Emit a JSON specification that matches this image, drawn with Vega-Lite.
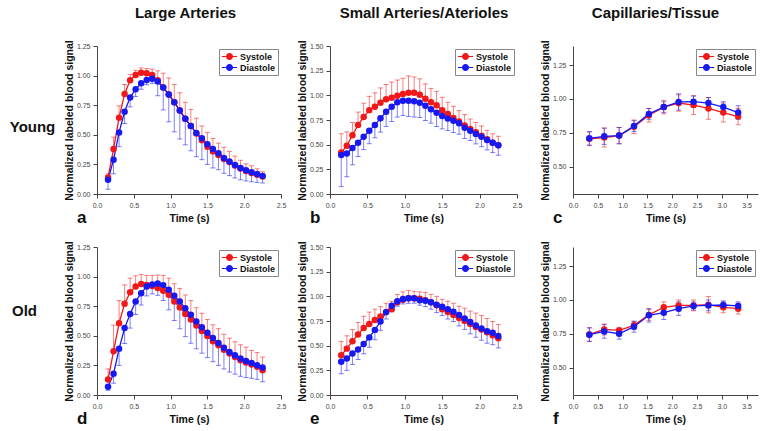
{
"$schema":"https://vega.github.io/schema/vega-lite/v6.json",
"background":"white",
"padding":5,
"config":{
 "font":"Liberation Sans",
 "view":{"stroke":null},
 "axis":{"grid":false,"domainColor":"#444","tickColor":"#444","labelColor":"#444","labelFontSize":7,"titleFontSize":10.5,"titleFontWeight":"bold","titleColor":"#111","tickSize":4,"labelPadding":3,"labelFlush":false,"domainWidth":1,"tickWidth":1,"minExtent":0},
 "axisY":{"titlePadding":2,"minExtent":0},
 "axisX":{"titlePadding":5,"minExtent":0},
 "title":{"font":"Liberation Sans","color":"#111"},
 "legend":{"orient":"top-right","offset":3,"symbolType":"M-1.7,0L1.7,0M0.65,0A0.65,0.65,0,1,1,-0.65,0A0.65,0.65,0,1,1,0.65,0Z","symbolSize":80,"symbolStrokeWidth":1.2,"symbolOffset":3,"labelOffset":5,"labelFontSize":9,"labelFontWeight":"bold","labelColor":"#111","strokeColor":"#888","fillColor":"white","padding":2,"rowPadding":0,"cornerRadius":0}
},
"datasets":{
"la_y":[
{"t":0.15,"g":"Systole","v":0.14,"eu":0.03,"ed":0},{"t":0.225,"g":"Systole","v":0.38,"eu":0.1,"ed":0},{"t":0.3,"g":"Systole","v":0.645,"eu":0.1,"ed":0},{"t":0.375,"g":"Systole","v":0.845,"eu":0.08,"ed":0},{"t":0.45,"g":"Systole","v":0.96,"eu":0.05,"ed":0},{"t":0.525,"g":"Systole","v":1.005,"eu":0.04,"ed":0},{"t":0.6,"g":"Systole","v":1.025,"eu":0.04,"ed":0},{"t":0.675,"g":"Systole","v":1.02,"eu":0.04,"ed":0},{"t":0.75,"g":"Systole","v":1.005,"eu":0.05,"ed":0},{"t":0.825,"g":"Systole","v":0.96,"eu":0.08,"ed":0},{"t":0.9,"g":"Systole","v":0.9,"eu":0.12,"ed":0},{"t":0.975,"g":"Systole","v":0.84,"eu":0.14,"ed":0},{"t":1.05,"g":"Systole","v":0.775,"eu":0.15,"ed":0},{"t":1.125,"g":"Systole","v":0.705,"eu":0.15,"ed":0},{"t":1.2,"g":"Systole","v":0.635,"eu":0.14,"ed":0},{"t":1.275,"g":"Systole","v":0.575,"eu":0.14,"ed":0},{"t":1.35,"g":"Systole","v":0.51,"eu":0.13,"ed":0},{"t":1.425,"g":"Systole","v":0.455,"eu":0.12,"ed":0},{"t":1.5,"g":"Systole","v":0.4,"eu":0.12,"ed":0},{"t":1.575,"g":"Systole","v":0.36,"eu":0.11,"ed":0},{"t":1.65,"g":"Systole","v":0.33,"eu":0.1,"ed":0},{"t":1.725,"g":"Systole","v":0.295,"eu":0.1,"ed":0},{"t":1.8,"g":"Systole","v":0.27,"eu":0.09,"ed":0},{"t":1.875,"g":"Systole","v":0.24,"eu":0.08,"ed":0},{"t":1.95,"g":"Systole","v":0.215,"eu":0.07,"ed":0},{"t":2.025,"g":"Systole","v":0.195,"eu":0.06,"ed":0},{"t":2.1,"g":"Systole","v":0.178,"eu":0.06,"ed":0},{"t":2.175,"g":"Systole","v":0.163,"eu":0.05,"ed":0},{"t":2.25,"g":"Systole","v":0.148,"eu":0.04,"ed":0},
{"t":0.15,"g":"Diastole","v":0.12,"eu":0,"ed":-0.08},{"t":0.225,"g":"Diastole","v":0.29,"eu":0,"ed":-0.12},{"t":0.3,"g":"Diastole","v":0.52,"eu":0,"ed":-0.12},{"t":0.375,"g":"Diastole","v":0.695,"eu":0,"ed":-0.1},{"t":0.45,"g":"Diastole","v":0.816,"eu":0,"ed":-0.08},{"t":0.525,"g":"Diastole","v":0.884,"eu":0,"ed":-0.06},{"t":0.6,"g":"Diastole","v":0.935,"eu":0,"ed":-0.05},{"t":0.675,"g":"Diastole","v":0.963,"eu":0,"ed":-0.04},{"t":0.75,"g":"Diastole","v":0.974,"eu":0,"ed":-0.04},{"t":0.825,"g":"Diastole","v":0.95,"eu":0,"ed":-0.12},{"t":0.9,"g":"Diastole","v":0.9,"eu":0,"ed":-0.19},{"t":0.975,"g":"Diastole","v":0.84,"eu":0,"ed":-0.23},{"t":1.05,"g":"Diastole","v":0.775,"eu":0,"ed":-0.25},{"t":1.125,"g":"Diastole","v":0.705,"eu":0,"ed":-0.24},{"t":1.2,"g":"Diastole","v":0.635,"eu":0,"ed":-0.22},{"t":1.275,"g":"Diastole","v":0.575,"eu":0,"ed":-0.21},{"t":1.35,"g":"Diastole","v":0.515,"eu":0,"ed":-0.2},{"t":1.425,"g":"Diastole","v":0.47,"eu":0,"ed":-0.18},{"t":1.5,"g":"Diastole","v":0.42,"eu":0,"ed":-0.17},{"t":1.575,"g":"Diastole","v":0.38,"eu":0,"ed":-0.16},{"t":1.65,"g":"Diastole","v":0.345,"eu":0,"ed":-0.14},{"t":1.725,"g":"Diastole","v":0.305,"eu":0,"ed":-0.13},{"t":1.8,"g":"Diastole","v":0.275,"eu":0,"ed":-0.12},{"t":1.875,"g":"Diastole","v":0.245,"eu":0,"ed":-0.11},{"t":1.95,"g":"Diastole","v":0.22,"eu":0,"ed":-0.1},{"t":2.025,"g":"Diastole","v":0.2,"eu":0,"ed":-0.09},{"t":2.1,"g":"Diastole","v":0.183,"eu":0,"ed":-0.08},{"t":2.175,"g":"Diastole","v":0.168,"eu":0,"ed":-0.07},{"t":2.25,"g":"Diastole","v":0.153,"eu":0,"ed":-0.06}
],
"sa_y":[
{"t":0.15,"g":"Systole","v":0.42,"eu":0.19,"ed":0},{"t":0.225,"g":"Systole","v":0.49,"eu":0.14,"ed":0},{"t":0.3,"g":"Systole","v":0.595,"eu":0.13,"ed":0},{"t":0.375,"g":"Systole","v":0.7,"eu":0.13,"ed":0},{"t":0.45,"g":"Systole","v":0.78,"eu":0.14,"ed":0},{"t":0.525,"g":"Systole","v":0.85,"eu":0.14,"ed":0},{"t":0.6,"g":"Systole","v":0.885,"eu":0.14,"ed":0},{"t":0.675,"g":"Systole","v":0.925,"eu":0.15,"ed":0},{"t":0.75,"g":"Systole","v":0.96,"eu":0.15,"ed":0},{"t":0.825,"g":"Systole","v":0.975,"eu":0.16,"ed":0},{"t":0.9,"g":"Systole","v":0.995,"eu":0.16,"ed":0},{"t":0.975,"g":"Systole","v":1.013,"eu":0.16,"ed":0},{"t":1.05,"g":"Systole","v":1.027,"eu":0.17,"ed":0},{"t":1.125,"g":"Systole","v":1.027,"eu":0.16,"ed":0},{"t":1.2,"g":"Systole","v":1.007,"eu":0.16,"ed":0},{"t":1.275,"g":"Systole","v":0.966,"eu":0.15,"ed":0},{"t":1.35,"g":"Systole","v":0.93,"eu":0.14,"ed":0},{"t":1.425,"g":"Systole","v":0.9,"eu":0.14,"ed":0},{"t":1.5,"g":"Systole","v":0.85,"eu":0.13,"ed":0},{"t":1.575,"g":"Systole","v":0.81,"eu":0.12,"ed":0},{"t":1.65,"g":"Systole","v":0.77,"eu":0.12,"ed":0},{"t":1.725,"g":"Systole","v":0.735,"eu":0.11,"ed":0},{"t":1.8,"g":"Systole","v":0.695,"eu":0.11,"ed":0},{"t":1.875,"g":"Systole","v":0.66,"eu":0.1,"ed":0},{"t":1.95,"g":"Systole","v":0.625,"eu":0.1,"ed":0},{"t":2.025,"g":"Systole","v":0.59,"eu":0.1,"ed":0},{"t":2.1,"g":"Systole","v":0.555,"eu":0.09,"ed":0},{"t":2.175,"g":"Systole","v":0.52,"eu":0.09,"ed":0},{"t":2.25,"g":"Systole","v":0.495,"eu":0.09,"ed":0},
{"t":0.15,"g":"Diastole","v":0.395,"eu":0,"ed":-0.32},{"t":0.225,"g":"Diastole","v":0.41,"eu":0,"ed":-0.235},{"t":0.3,"g":"Diastole","v":0.466,"eu":0,"ed":-0.17},{"t":0.375,"g":"Diastole","v":0.52,"eu":0,"ed":-0.14},{"t":0.45,"g":"Diastole","v":0.58,"eu":0,"ed":-0.13},{"t":0.525,"g":"Diastole","v":0.64,"eu":0,"ed":-0.13},{"t":0.6,"g":"Diastole","v":0.7,"eu":0,"ed":-0.13},{"t":0.675,"g":"Diastole","v":0.767,"eu":0,"ed":-0.14},{"t":0.75,"g":"Diastole","v":0.834,"eu":0,"ed":-0.15},{"t":0.825,"g":"Diastole","v":0.885,"eu":0,"ed":-0.15},{"t":0.9,"g":"Diastole","v":0.93,"eu":0,"ed":-0.15},{"t":0.975,"g":"Diastole","v":0.946,"eu":0,"ed":-0.15},{"t":1.05,"g":"Diastole","v":0.946,"eu":0,"ed":-0.16},{"t":1.125,"g":"Diastole","v":0.94,"eu":0,"ed":-0.16},{"t":1.2,"g":"Diastole","v":0.925,"eu":0,"ed":-0.15},{"t":1.275,"g":"Diastole","v":0.895,"eu":0,"ed":-0.15},{"t":1.35,"g":"Diastole","v":0.858,"eu":0,"ed":-0.14},{"t":1.425,"g":"Diastole","v":0.824,"eu":0,"ed":-0.14},{"t":1.5,"g":"Diastole","v":0.79,"eu":0,"ed":-0.13},{"t":1.575,"g":"Diastole","v":0.764,"eu":0,"ed":-0.12},{"t":1.65,"g":"Diastole","v":0.743,"eu":0,"ed":-0.12},{"t":1.725,"g":"Diastole","v":0.716,"eu":0,"ed":-0.11},{"t":1.8,"g":"Diastole","v":0.672,"eu":0,"ed":-0.11},{"t":1.875,"g":"Diastole","v":0.642,"eu":0,"ed":-0.1},{"t":1.95,"g":"Diastole","v":0.608,"eu":0,"ed":-0.1},{"t":2.025,"g":"Diastole","v":0.58,"eu":0,"ed":-0.1},{"t":2.1,"g":"Diastole","v":0.547,"eu":0,"ed":-0.1},{"t":2.175,"g":"Diastole","v":0.52,"eu":0,"ed":-0.1},{"t":2.25,"g":"Diastole","v":0.493,"eu":0,"ed":-0.1}
],
"cap_y":[
{"t":0.33,"g":"Systole","v":0.706,"eu":0.05,"ed":-0.05},{"t":0.63,"g":"Systole","v":0.716,"eu":0.07,"ed":-0.07},{"t":0.93,"g":"Systole","v":0.73,"eu":0.06,"ed":-0.06},{"t":1.23,"g":"Systole","v":0.795,"eu":0.05,"ed":-0.05},{"t":1.53,"g":"Systole","v":0.88,"eu":0.05,"ed":-0.05},{"t":1.83,"g":"Systole","v":0.94,"eu":0.05,"ed":-0.05},{"t":2.13,"g":"Systole","v":0.97,"eu":0.06,"ed":-0.06},{"t":2.43,"g":"Systole","v":0.955,"eu":0.07,"ed":-0.07},{"t":2.73,"g":"Systole","v":0.93,"eu":0.08,"ed":-0.08},{"t":3.03,"g":"Systole","v":0.9,"eu":0.07,"ed":-0.07},{"t":3.33,"g":"Systole","v":0.87,"eu":0.06,"ed":-0.06},
{"t":0.33,"g":"Diastole","v":0.71,"eu":0.05,"ed":-0.05},{"t":0.63,"g":"Diastole","v":0.725,"eu":0.06,"ed":-0.06},{"t":0.93,"g":"Diastole","v":0.73,"eu":0.06,"ed":-0.06},{"t":1.23,"g":"Diastole","v":0.8,"eu":0.04,"ed":-0.04},{"t":1.53,"g":"Diastole","v":0.89,"eu":0.04,"ed":-0.04},{"t":1.83,"g":"Diastole","v":0.94,"eu":0.04,"ed":-0.04},{"t":2.13,"g":"Diastole","v":0.978,"eu":0.06,"ed":-0.06},{"t":2.43,"g":"Diastole","v":0.98,"eu":0.04,"ed":-0.04},{"t":2.73,"g":"Diastole","v":0.97,"eu":0.04,"ed":-0.04},{"t":3.03,"g":"Diastole","v":0.94,"eu":0.04,"ed":-0.04},{"t":3.33,"g":"Diastole","v":0.9,"eu":0.05,"ed":-0.05}
],
"la_o":[
{"t":0.15,"g":"Systole","v":0.13,"eu":0.09,"ed":0},{"t":0.225,"g":"Systole","v":0.37,"eu":0.22,"ed":0},{"t":0.3,"g":"Systole","v":0.607,"eu":0.19,"ed":0},{"t":0.375,"g":"Systole","v":0.77,"eu":0.16,"ed":0},{"t":0.45,"g":"Systole","v":0.867,"eu":0.12,"ed":0},{"t":0.525,"g":"Systole","v":0.917,"eu":0.09,"ed":0},{"t":0.6,"g":"Systole","v":0.937,"eu":0.08,"ed":0},{"t":0.675,"g":"Systole","v":0.93,"eu":0.08,"ed":0},{"t":0.75,"g":"Systole","v":0.92,"eu":0.09,"ed":0},{"t":0.825,"g":"Systole","v":0.903,"eu":0.11,"ed":0},{"t":0.9,"g":"Systole","v":0.88,"eu":0.13,"ed":0},{"t":0.975,"g":"Systole","v":0.847,"eu":0.14,"ed":0},{"t":1.05,"g":"Systole","v":0.79,"eu":0.15,"ed":0},{"t":1.125,"g":"Systole","v":0.74,"eu":0.16,"ed":0},{"t":1.2,"g":"Systole","v":0.685,"eu":0.16,"ed":0},{"t":1.275,"g":"Systole","v":0.637,"eu":0.16,"ed":0},{"t":1.35,"g":"Systole","v":0.587,"eu":0.15,"ed":0},{"t":1.425,"g":"Systole","v":0.54,"eu":0.15,"ed":0},{"t":1.5,"g":"Systole","v":0.498,"eu":0.14,"ed":0},{"t":1.575,"g":"Systole","v":0.453,"eu":0.14,"ed":0},{"t":1.65,"g":"Systole","v":0.42,"eu":0.14,"ed":0},{"t":1.725,"g":"Systole","v":0.383,"eu":0.13,"ed":0},{"t":1.8,"g":"Systole","v":0.35,"eu":0.13,"ed":0},{"t":1.875,"g":"Systole","v":0.32,"eu":0.13,"ed":0},{"t":1.95,"g":"Systole","v":0.294,"eu":0.13,"ed":0},{"t":2.025,"g":"Systole","v":0.274,"eu":0.13,"ed":0},{"t":2.1,"g":"Systole","v":0.257,"eu":0.12,"ed":0},{"t":2.175,"g":"Systole","v":0.238,"eu":0.12,"ed":0},{"t":2.25,"g":"Systole","v":0.21,"eu":0.11,"ed":0},
{"t":0.15,"g":"Diastole","v":0.07,"eu":0,"ed":-0.03},{"t":0.225,"g":"Diastole","v":0.18,"eu":0,"ed":-0.08},{"t":0.3,"g":"Diastole","v":0.39,"eu":0,"ed":-0.14},{"t":0.375,"g":"Diastole","v":0.565,"eu":0,"ed":-0.13},{"t":0.45,"g":"Diastole","v":0.685,"eu":0,"ed":-0.12},{"t":0.525,"g":"Diastole","v":0.79,"eu":0,"ed":-0.11},{"t":0.6,"g":"Diastole","v":0.86,"eu":0,"ed":-0.1},{"t":0.675,"g":"Diastole","v":0.917,"eu":0,"ed":-0.08},{"t":0.75,"g":"Diastole","v":0.934,"eu":0,"ed":-0.08},{"t":0.825,"g":"Diastole","v":0.942,"eu":0,"ed":-0.1},{"t":0.9,"g":"Diastole","v":0.928,"eu":0,"ed":-0.13},{"t":0.975,"g":"Diastole","v":0.889,"eu":0,"ed":-0.17},{"t":1.05,"g":"Diastole","v":0.839,"eu":0,"ed":-0.21},{"t":1.125,"g":"Diastole","v":0.789,"eu":0,"ed":-0.23},{"t":1.2,"g":"Diastole","v":0.733,"eu":0,"ed":-0.24},{"t":1.275,"g":"Diastole","v":0.677,"eu":0,"ed":-0.24},{"t":1.35,"g":"Diastole","v":0.62,"eu":0,"ed":-0.23},{"t":1.425,"g":"Diastole","v":0.573,"eu":0,"ed":-0.22},{"t":1.5,"g":"Diastole","v":0.526,"eu":0,"ed":-0.21},{"t":1.575,"g":"Diastole","v":0.481,"eu":0,"ed":-0.2},{"t":1.65,"g":"Diastole","v":0.44,"eu":0,"ed":-0.19},{"t":1.725,"g":"Diastole","v":0.4,"eu":0,"ed":-0.18},{"t":1.8,"g":"Diastole","v":0.364,"eu":0,"ed":-0.17},{"t":1.875,"g":"Diastole","v":0.336,"eu":0,"ed":-0.16},{"t":1.95,"g":"Diastole","v":0.308,"eu":0,"ed":-0.15},{"t":2.025,"g":"Diastole","v":0.288,"eu":0,"ed":-0.14},{"t":2.1,"g":"Diastole","v":0.271,"eu":0,"ed":-0.13},{"t":2.175,"g":"Diastole","v":0.252,"eu":0,"ed":-0.12},{"t":2.25,"g":"Diastole","v":0.232,"eu":0,"ed":-0.12}
],
"sa_o":[
{"t":0.15,"g":"Systole","v":0.403,"eu":0.14,"ed":0},{"t":0.225,"g":"Systole","v":0.47,"eu":0.13,"ed":0},{"t":0.3,"g":"Systole","v":0.544,"eu":0.12,"ed":0},{"t":0.375,"g":"Systole","v":0.614,"eu":0.12,"ed":0},{"t":0.45,"g":"Systole","v":0.678,"eu":0.12,"ed":0},{"t":0.525,"g":"Systole","v":0.72,"eu":0.12,"ed":0},{"t":0.6,"g":"Systole","v":0.76,"eu":0.11,"ed":0},{"t":0.675,"g":"Systole","v":0.795,"eu":0.1,"ed":0},{"t":0.75,"g":"Systole","v":0.84,"eu":0.09,"ed":0},{"t":0.825,"g":"Systole","v":0.87,"eu":0.08,"ed":0},{"t":0.9,"g":"Systole","v":0.94,"eu":0.08,"ed":0},{"t":0.975,"g":"Systole","v":0.965,"eu":0.08,"ed":0},{"t":1.05,"g":"Systole","v":0.98,"eu":0.08,"ed":0},{"t":1.125,"g":"Systole","v":0.98,"eu":0.07,"ed":0},{"t":1.2,"g":"Systole","v":0.975,"eu":0.07,"ed":0},{"t":1.275,"g":"Systole","v":0.96,"eu":0.08,"ed":0},{"t":1.35,"g":"Systole","v":0.94,"eu":0.08,"ed":0},{"t":1.425,"g":"Systole","v":0.91,"eu":0.09,"ed":0},{"t":1.5,"g":"Systole","v":0.87,"eu":0.1,"ed":0},{"t":1.575,"g":"Systole","v":0.84,"eu":0.11,"ed":0},{"t":1.65,"g":"Systole","v":0.81,"eu":0.12,"ed":0},{"t":1.725,"g":"Systole","v":0.78,"eu":0.12,"ed":0},{"t":1.8,"g":"Systole","v":0.75,"eu":0.13,"ed":0},{"t":1.875,"g":"Systole","v":0.72,"eu":0.13,"ed":0},{"t":1.95,"g":"Systole","v":0.69,"eu":0.14,"ed":0},{"t":2.025,"g":"Systole","v":0.665,"eu":0.14,"ed":0},{"t":2.1,"g":"Systole","v":0.635,"eu":0.14,"ed":0},{"t":2.175,"g":"Systole","v":0.605,"eu":0.14,"ed":0},{"t":2.25,"g":"Systole","v":0.575,"eu":0.14,"ed":0},
{"t":0.15,"g":"Diastole","v":0.336,"eu":0,"ed":-0.12},{"t":0.225,"g":"Diastole","v":0.37,"eu":0,"ed":-0.12},{"t":0.3,"g":"Diastole","v":0.42,"eu":0,"ed":-0.11},{"t":0.375,"g":"Diastole","v":0.46,"eu":0,"ed":-0.1},{"t":0.45,"g":"Diastole","v":0.517,"eu":0,"ed":-0.1},{"t":0.525,"g":"Diastole","v":0.584,"eu":0,"ed":-0.1},{"t":0.6,"g":"Diastole","v":0.66,"eu":0,"ed":-0.1},{"t":0.675,"g":"Diastole","v":0.745,"eu":0,"ed":-0.09},{"t":0.75,"g":"Diastole","v":0.84,"eu":0,"ed":-0.07},{"t":0.825,"g":"Diastole","v":0.905,"eu":0,"ed":-0.06},{"t":0.9,"g":"Diastole","v":0.95,"eu":0,"ed":-0.05},{"t":0.975,"g":"Diastole","v":0.973,"eu":0,"ed":-0.05},{"t":1.05,"g":"Diastole","v":0.98,"eu":0,"ed":-0.05},{"t":1.125,"g":"Diastole","v":0.98,"eu":0,"ed":-0.05},{"t":1.2,"g":"Diastole","v":0.96,"eu":0,"ed":-0.05},{"t":1.275,"g":"Diastole","v":0.955,"eu":0,"ed":-0.06},{"t":1.35,"g":"Diastole","v":0.94,"eu":0,"ed":-0.07},{"t":1.425,"g":"Diastole","v":0.915,"eu":0,"ed":-0.08},{"t":1.5,"g":"Diastole","v":0.895,"eu":0,"ed":-0.09},{"t":1.575,"g":"Diastole","v":0.87,"eu":0,"ed":-0.1},{"t":1.65,"g":"Diastole","v":0.845,"eu":0,"ed":-0.1},{"t":1.725,"g":"Diastole","v":0.81,"eu":0,"ed":-0.11},{"t":1.8,"g":"Diastole","v":0.775,"eu":0,"ed":-0.11},{"t":1.875,"g":"Diastole","v":0.74,"eu":0,"ed":-0.12},{"t":1.95,"g":"Diastole","v":0.705,"eu":0,"ed":-0.12},{"t":2.025,"g":"Diastole","v":0.675,"eu":0,"ed":-0.12},{"t":2.1,"g":"Diastole","v":0.645,"eu":0,"ed":-0.12},{"t":2.175,"g":"Diastole","v":0.63,"eu":0,"ed":-0.12},{"t":2.25,"g":"Diastole","v":0.597,"eu":0,"ed":-0.12}
],
"cap_o":[
{"t":0.33,"g":"Systole","v":0.746,"eu":0.05,"ed":-0.05},{"t":0.63,"g":"Systole","v":0.783,"eu":0.04,"ed":-0.04},{"t":0.93,"g":"Systole","v":0.776,"eu":0.02,"ed":-0.02},{"t":1.23,"g":"Systole","v":0.813,"eu":0.03,"ed":-0.03},{"t":1.53,"g":"Systole","v":0.89,"eu":0.04,"ed":-0.04},{"t":1.83,"g":"Systole","v":0.946,"eu":0.04,"ed":-0.04},{"t":2.13,"g":"Systole","v":0.96,"eu":0.04,"ed":-0.04},{"t":2.43,"g":"Systole","v":0.96,"eu":0.04,"ed":-0.04},{"t":2.73,"g":"Systole","v":0.965,"eu":0.06,"ed":-0.06},{"t":3.03,"g":"Systole","v":0.946,"eu":0.04,"ed":-0.04},{"t":3.33,"g":"Systole","v":0.936,"eu":0.04,"ed":-0.04},
{"t":0.33,"g":"Diastole","v":0.744,"eu":0.05,"ed":-0.05},{"t":0.63,"g":"Diastole","v":0.768,"eu":0.05,"ed":-0.05},{"t":0.93,"g":"Diastole","v":0.751,"eu":0.04,"ed":-0.04},{"t":1.23,"g":"Diastole","v":0.803,"eu":0.04,"ed":-0.04},{"t":1.53,"g":"Diastole","v":0.887,"eu":0.05,"ed":-0.05},{"t":1.83,"g":"Diastole","v":0.906,"eu":0.05,"ed":-0.05},{"t":2.13,"g":"Diastole","v":0.936,"eu":0.05,"ed":-0.05},{"t":2.43,"g":"Diastole","v":0.956,"eu":0.03,"ed":-0.03},{"t":2.73,"g":"Diastole","v":0.96,"eu":0.04,"ed":-0.04},{"t":3.03,"g":"Diastole","v":0.963,"eu":0.03,"ed":-0.03},{"t":3.33,"g":"Diastole","v":0.956,"eu":0.03,"ed":-0.03}
]
},
"spacing":14,
"resolve":{"scale":{"color":"independent"},"legend":{"color":"independent"}},
"vconcat":[
{"spacing":7,"resolve":{"scale":{"color":"independent"},"legend":{"color":"independent"}},
 "hconcat":[
  {"width":52,"height":148,"data":{"values":[{"label":"Young"}]},"mark":{"type":"text","fontSize":15,"fontWeight":"bold","dx":1.5,"dy":7,"color":"#111"},"encoding":{"text":{"field":"label","type":"nominal"}}},
  {"spacing":18,"resolve":{"scale":{"color":"independent"},"legend":{"color":"independent"}},
   "hconcat":[
    {"spacing":11,"resolve":{"scale":{"color":"independent"},"legend":{"color":"independent"}},
     "hconcat":[
      {"width":184,"height":148,"data":{"name":"la_y"},
       "title":{"text":"a","orient":"bottom","anchor":"start","frame":"group","fontSize":17,"fontWeight":"bold","dx":-20,"offset":-14},
       "resolve":{"axis":{"x":"independent"}},
       "encoding":{
        "y":{"field":"v","type":"quantitative","scale":{"domain":[0,1.25],"nice":false},"axis":{"title":"Normalized labeled blood signal","values":[0,0.25,0.5,0.75,1,1.25],"format":".2f"}},
        "color":{"field":"g","type":"nominal","scale":{"domain":["Systole","Diastole"],"range":["#f01818","#1818f0"]},"legend":{"title":null,"encode":{"symbols":{"update":{"stroke":{"signal":"datum.value === 'Systole' ? '#f01818' : '#1818f0'"},"fill":{"signal":"datum.value === 'Systole' ? '#f01818' : '#1818f0'"}}}}}}},
       "layer":[
        {"mark":{"type":"errorbar","thickness":1,"ticks":{"size":5,"opacity":0.55},"rule":{"opacity":0.55}},"encoding":{"x":{"field":"t","type":"quantitative","scale":{"domain":[0,2.5],"nice":false,"zero":false},"axis":{"title":"Time (s)","values":[0,0.5,1,1.5,2,2.5],"format":".1f"}},"yError":{"field":"eu"},"yError2":{"field":"ed"}}},
        {"mark":{"type":"line","strokeWidth":1.3},"encoding":{"x":{"field":"t","type":"quantitative","axis":null}}},
        {"mark":{"type":"point","filled":true,"size":42,"opacity":1},"encoding":{"x":{"field":"t","type":"quantitative","axis":{"orient":"top","title":"Large Arteries","titleFontSize":15,"titlePadding":26,"titleX":88,"labels":false,"ticks":false,"domain":false}}}}
       ]},
      {"width":187,"height":148,"data":{"name":"sa_y"},
       "title":{"text":"b","orient":"bottom","anchor":"start","frame":"group","fontSize":17,"fontWeight":"bold","dx":-20,"offset":-14},
       "resolve":{"axis":{"x":"independent"}},
       "encoding":{
        "y":{"field":"v","type":"quantitative","scale":{"domain":[0,1.5],"nice":false},"axis":{"title":"Normalized labeled blood signal","values":[0,0.25,0.5,0.75,1,1.25,1.5],"format":".2f"}},
        "color":{"field":"g","type":"nominal","scale":{"domain":["Systole","Diastole"],"range":["#f01818","#1818f0"]},"legend":{"title":null,"encode":{"symbols":{"update":{"stroke":{"signal":"datum.value === 'Systole' ? '#f01818' : '#1818f0'"},"fill":{"signal":"datum.value === 'Systole' ? '#f01818' : '#1818f0'"}}}}}}},
       "layer":[
        {"mark":{"type":"errorbar","thickness":1,"ticks":{"size":5,"opacity":0.55},"rule":{"opacity":0.55}},"encoding":{"x":{"field":"t","type":"quantitative","scale":{"domain":[0,2.5],"nice":false,"zero":false},"axis":{"title":"Time (s)","values":[0,0.5,1,1.5,2,2.5],"format":".1f"}},"yError":{"field":"eu"},"yError2":{"field":"ed"}}},
        {"mark":{"type":"line","strokeWidth":1.3},"encoding":{"x":{"field":"t","type":"quantitative","axis":null}}},
        {"mark":{"type":"point","filled":true,"size":42,"opacity":1},"encoding":{"x":{"field":"t","type":"quantitative","axis":{"orient":"top","title":"Small Arteries/Aterioles","titleFontSize":15,"titlePadding":26,"labels":false,"ticks":false,"domain":false}}}}
       ]}
     ]},
      {"width":185,"height":148,"data":{"name":"cap_y"},
       "title":{"text":"c","orient":"bottom","anchor":"start","frame":"group","fontSize":17,"fontWeight":"bold","dx":-20,"offset":-14},
       "resolve":{"axis":{"x":"independent"}},
       "encoding":{
        "y":{"field":"v","type":"quantitative","scale":{"domain":[0.3,1.39],"nice":false,"zero":false},"axis":{"title":"Normalized labeled blood signal","values":[0.5,0.75,1,1.25],"format":".2f"}},
        "color":{"field":"g","type":"nominal","scale":{"domain":["Systole","Diastole"],"range":["#f01818","#1818f0"]},"legend":{"title":null,"encode":{"symbols":{"update":{"stroke":{"signal":"datum.value === 'Systole' ? '#f01818' : '#1818f0'"},"fill":{"signal":"datum.value === 'Systole' ? '#f01818' : '#1818f0'"}}}}}}},
       "layer":[
        {"mark":{"type":"errorbar","thickness":1,"ticks":{"size":5,"opacity":0.55},"rule":{"opacity":0.55}},"encoding":{"x":{"field":"t","type":"quantitative","scale":{"domain":[0,3.73],"nice":false,"zero":false},"axis":{"title":"Time (s)","values":[0,0.5,1,1.5,2,2.5,3,3.5],"format":".1f"}},"yError":{"field":"eu"},"yError2":{"field":"ed"}}},
        {"mark":{"type":"line","strokeWidth":1.3},"encoding":{"x":{"field":"t","type":"quantitative","axis":null}}},
        {"mark":{"type":"point","filled":true,"size":42,"opacity":1},"encoding":{"x":{"field":"t","type":"quantitative","axis":{"orient":"top","title":"Capillaries/Tissue","titleFontSize":15,"titlePadding":26,"titleX":82,"labels":false,"ticks":false,"domain":false}}}}
       ]}
   ]}
 ]},
{"spacing":7,"resolve":{"scale":{"color":"independent"},"legend":{"color":"independent"}},
 "hconcat":[
  {"width":52,"height":148,"data":{"values":[{"label":"Old"}]},"mark":{"type":"text","fontSize":15,"fontWeight":"bold","dx":-6.5,"dy":-10,"color":"#111"},"encoding":{"text":{"field":"label","type":"nominal"}}},
  {"spacing":18,"resolve":{"scale":{"color":"independent"},"legend":{"color":"independent"}},
   "hconcat":[
    {"spacing":11,"resolve":{"scale":{"color":"independent"},"legend":{"color":"independent"}},
     "hconcat":[
      {"width":184,"height":148,"data":{"name":"la_o"},
       "title":{"text":"d","orient":"bottom","anchor":"start","frame":"group","fontSize":17,"fontWeight":"bold","dx":-20,"offset":-14},
       "encoding":{
        "x":{"field":"t","type":"quantitative","scale":{"domain":[0,2.5],"nice":false,"zero":false},"axis":{"title":"Time (s)","values":[0,0.5,1,1.5,2,2.5],"format":".1f"}},
        "y":{"field":"v","type":"quantitative","scale":{"domain":[0,1.25],"nice":false},"axis":{"title":"Normalized labeled blood signal","values":[0,0.25,0.5,0.75,1,1.25],"format":".2f"}},
        "color":{"field":"g","type":"nominal","scale":{"domain":["Systole","Diastole"],"range":["#f01818","#1818f0"]},"legend":{"title":null,"encode":{"symbols":{"update":{"stroke":{"signal":"datum.value === 'Systole' ? '#f01818' : '#1818f0'"},"fill":{"signal":"datum.value === 'Systole' ? '#f01818' : '#1818f0'"}}}}}}},
       "layer":[
        {"mark":{"type":"errorbar","thickness":1,"ticks":{"size":5,"opacity":0.55},"rule":{"opacity":0.55}},"encoding":{"yError":{"field":"eu"},"yError2":{"field":"ed"}}},
        {"mark":{"type":"line","strokeWidth":1.3},"encoding":{}},
        {"mark":{"type":"point","filled":true,"size":42,"opacity":1},"encoding":{}}
       ]},
      {"width":187,"height":148,"data":{"name":"sa_o"},
       "title":{"text":"e","orient":"bottom","anchor":"start","frame":"group","fontSize":17,"fontWeight":"bold","dx":-20,"offset":-14},
       "encoding":{
        "x":{"field":"t","type":"quantitative","scale":{"domain":[0,2.5],"nice":false,"zero":false},"axis":{"title":"Time (s)","values":[0,0.5,1,1.5,2,2.5],"format":".1f"}},
        "y":{"field":"v","type":"quantitative","scale":{"domain":[0,1.5],"nice":false},"axis":{"title":"Normalized labeled blood signal","values":[0,0.25,0.5,0.75,1,1.25,1.5],"format":".2f"}},
        "color":{"field":"g","type":"nominal","scale":{"domain":["Systole","Diastole"],"range":["#f01818","#1818f0"]},"legend":{"title":null,"encode":{"symbols":{"update":{"stroke":{"signal":"datum.value === 'Systole' ? '#f01818' : '#1818f0'"},"fill":{"signal":"datum.value === 'Systole' ? '#f01818' : '#1818f0'"}}}}}}},
       "layer":[
        {"mark":{"type":"errorbar","thickness":1,"ticks":{"size":5,"opacity":0.55},"rule":{"opacity":0.55}},"encoding":{"yError":{"field":"eu"},"yError2":{"field":"ed"}}},
        {"mark":{"type":"line","strokeWidth":1.3},"encoding":{}},
        {"mark":{"type":"point","filled":true,"size":42,"opacity":1},"encoding":{}}
       ]}
     ]},
      {"width":185,"height":148,"data":{"name":"cap_o"},
       "title":{"text":"f","orient":"bottom","anchor":"start","frame":"group","fontSize":17,"fontWeight":"bold","dx":-20,"offset":-14},
       "encoding":{
        "x":{"field":"t","type":"quantitative","scale":{"domain":[0,3.73],"nice":false,"zero":false},"axis":{"title":"Time (s)","values":[0,0.5,1,1.5,2,2.5,3,3.5],"format":".1f"}},
        "y":{"field":"v","type":"quantitative","scale":{"domain":[0.3,1.39],"nice":false,"zero":false},"axis":{"title":"Normalized labeled blood signal","values":[0.5,0.75,1,1.25],"format":".2f"}},
        "color":{"field":"g","type":"nominal","scale":{"domain":["Systole","Diastole"],"range":["#f01818","#1818f0"]},"legend":{"title":null,"encode":{"symbols":{"update":{"stroke":{"signal":"datum.value === 'Systole' ? '#f01818' : '#1818f0'"},"fill":{"signal":"datum.value === 'Systole' ? '#f01818' : '#1818f0'"}}}}}}},
       "layer":[
        {"mark":{"type":"errorbar","thickness":1,"ticks":{"size":5,"opacity":0.55},"rule":{"opacity":0.55}},"encoding":{"yError":{"field":"eu"},"yError2":{"field":"ed"}}},
        {"mark":{"type":"line","strokeWidth":1.3},"encoding":{}},
        {"mark":{"type":"point","filled":true,"size":42,"opacity":1},"encoding":{}}
       ]}
   ]}
 ]}
]
}
